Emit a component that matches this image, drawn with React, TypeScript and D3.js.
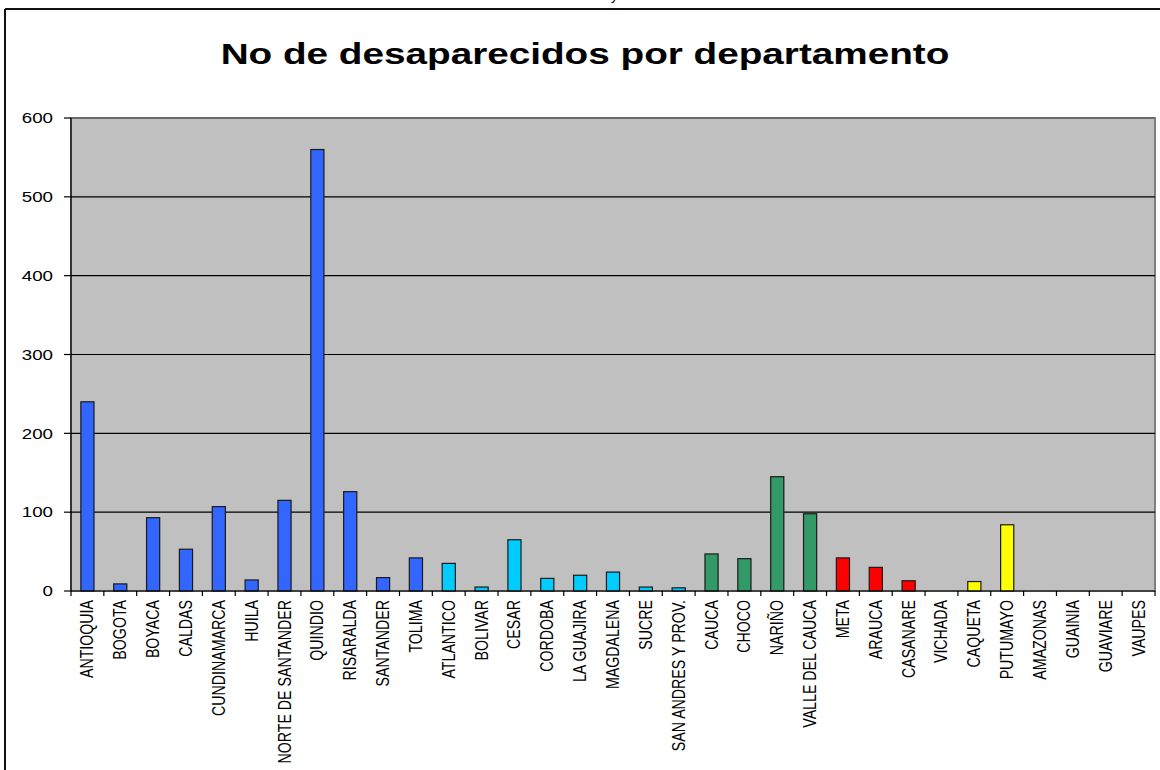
import React from "react";
import * as d3 from "d3";

const categories = [
  "ANTIOQUIA", "BOGOTA", "BOYACA", "CALDAS", "CUNDINAMARCA", "HUILA",
  "NORTE DE SANTANDER", "QUINDIO", "RISARALDA", "SANTANDER", "TOLIMA",
  "ATLANTICO", "BOLIVAR", "CESAR", "CORDOBA", "LA GUAJIRA", "MAGDALENA",
  "SUCRE", "SAN ANDRES Y PROV.", "CAUCA", "CHOCO", "NARIÑO", "VALLE DEL CAUCA",
  "META", "ARAUCA", "CASANARE", "VICHADA", "CAQUETA", "PUTUMAYO",
  "AMAZONAS", "GUAINIA", "GUAVIARE", "VAUPES",
];
const values = [
  240, 9, 93, 53, 107, 14, 115, 560, 126, 17, 42,
  35, 5, 65, 16, 20, 24, 5, 4,
  47, 41, 145, 98,
  42, 30, 13, 0, 12, 84,
  0, 0, 0, 0,
];
const regions = [
  "andina", "andina", "andina", "andina", "andina", "andina",
  "andina", "andina", "andina", "andina", "andina",
  "caribe", "caribe", "caribe", "caribe", "caribe", "caribe",
  "caribe", "caribe", "pacifico", "pacifico", "pacifico", "pacifico",
  "orinoquia", "orinoquia", "orinoquia", "orinoquia", "amazonia", "amazonia",
  "amazonia", "amazonia", "amazonia", "amazonia",
];
const regionColors: Record<string, string> = {
  andina: "#3366FF",
  caribe: "#00CCFF",
  pacifico: "#339966",
  orinoquia: "#FF0000",
  amazonia: "#FFFF00",
};
const yTicks = [0, 100, 200, 300, 400, 500, 600];
const title = "No de desaparecidos por departamento";

const W = 1160;
const H = 770;
const plot = { left: 71, right: 1155, top: 118, bottom: 591 };
const SX = 1.25;
const font = "Arial, 'Liberation Sans', sans-serif";

export default function App() {
  const x = d3.scaleBand<string>().domain(categories).range([plot.left, plot.right]).paddingInner(0).paddingOuter(0);
  const y = d3.scaleLinear().domain([0, 600]).range([plot.bottom, plot.top]);
  const bw = x.bandwidth() / 2.5;

  return (
    <svg width={W} height={H} style={{ position: "absolute", left: 0, top: 0, background: "#fff" }}>
      <rect x={0} y={0} width={W} height={H} fill="#fff" />
      {/* cut-off text fragment at the very top */}
      <text x={611} y={-0.5} fontFamily={font} fontSize={14} fill="#000">y</text>
      {/* outer frame */}
      <line x1={5} x2={W} y1={9} y2={9} stroke="#111" strokeWidth={2} />
      <line x1={5} x2={5} y1={9} y2={H} stroke="#111" strokeWidth={2} />

      {/* title */}
      <g transform={`translate(585,63.5) scale(1.29,1)`}>
        <text x={0} y={0} textAnchor="middle" fontFamily={font} fontWeight="bold" fontSize={30} fill="#000">{title}</text>
      </g>

      {/* plot area */}
      <rect x={plot.left} y={plot.top} width={plot.right - plot.left} height={plot.bottom - plot.top} fill="#C0C0C0" stroke="#808080" strokeWidth={2} />
      {yTicks.filter((t) => t > 0).map((t) => (
        <line key={t} x1={plot.left} x2={plot.right} y1={y(t)} y2={y(t)} stroke={t === 600 ? "#555" : "#000"} strokeWidth={1.2} />
      ))}

      {/* bars */}
      {categories.map((c, i) =>
        values[i] > 0 ? (
          <rect
            key={c}
            x={(x(c) as number) + x.bandwidth() / 2 - bw / 2}
            y={y(values[i])}
            width={bw}
            height={y(0) - y(values[i])}
            fill={regionColors[regions[i]]}
            stroke="#1a1a1a"
            strokeWidth={1.2}
          />
        ) : null
      )}

      {/* y axis */}
      <line x1={plot.left} x2={plot.left} y1={plot.top} y2={plot.bottom} stroke="#000" strokeWidth={1.2} />
      {yTicks.map((t) => (
        <g key={t}>
          <line x1={plot.left - 7} x2={plot.left} y1={y(t)} y2={y(t)} stroke="#000" strokeWidth={1.2} />
          <g transform={`translate(${plot.left - 18},${y(t) + 5.3}) scale(${SX},1)`}>
            <text x={0} y={0} textAnchor="end" fontFamily={font} fontSize={15} fill="#000">{t}</text>
          </g>
        </g>
      ))}

      {/* x axis */}
      <line x1={plot.left} x2={plot.right} y1={plot.bottom} y2={plot.bottom} stroke="#000" strokeWidth={1.2} />
      {[...categories.map((c) => x(c) as number), plot.right].map((px, i) => (
        <line key={i} x1={px} x2={px} y1={plot.bottom} y2={plot.bottom + 5} stroke="#000" strokeWidth={1.2} />
      ))}
      {categories.map((c) => (
        <g key={c} transform={`translate(${(x(c) as number) + x.bandwidth() / 2 + 6},${plot.bottom + 9}) scale(${SX},1) rotate(-90)`}>
          <text x={0} y={0} textAnchor="end" fontFamily={font} fontSize={14.2} fill="#000">{c}</text>
        </g>
      ))}
    </svg>
  );
}
